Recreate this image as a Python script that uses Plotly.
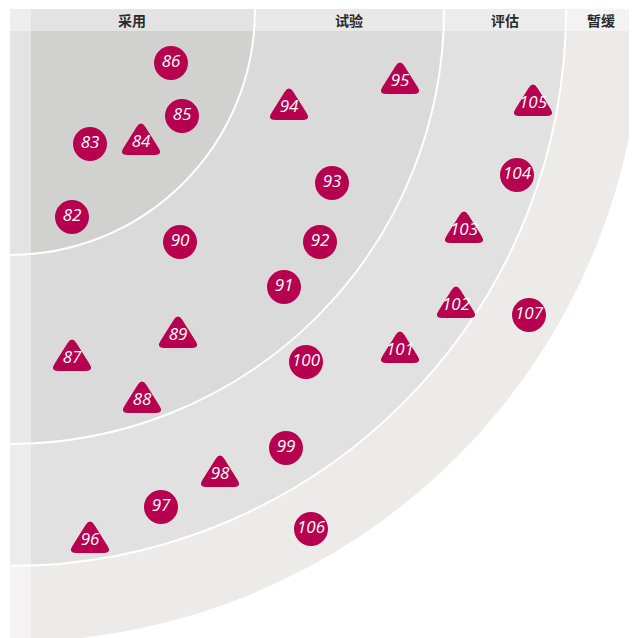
import math
import plotly.graph_objects as go

# ---------------- data ----------------
ring_names = ["采用", "试验", "评估", "暂缓"]
ring_radii = [245, 434, 556, 632]
ring_colors = ["#d1d1d0", "#dadada", "#e1e1e1", "#ecebea"]

blip_ids = [82, 83, 84, 85, 86, 87, 88, 89, 90,
            91, 92, 93, 94, 95, 96, 97, 98, 99, 100, 101,
            102, 103, 104, 105, 106, 107]
blip_x = [72, 90, 141, 182, 171, 72, 142, 178, 180,
          284, 320, 332, 289, 400, 90, 161, 220, 286, 306, 400,
          456, 464, 517, 533, 311, 529]
blip_y = [217, 144, 143, 116, 63, 359, 401, 336, 242,
          287, 242, 183, 108, 82, 541, 507, 475, 448, 362, 351,
          306, 231, 175, 104, 529, 315]
blip_shape = ["circle", "circle", "triangle", "circle", "circle", "triangle", "triangle", "triangle", "circle",
              "circle", "circle", "circle", "triangle", "triangle", "triangle", "circle", "triangle", "circle", "circle", "triangle",
              "triangle", "triangle", "circle", "triangle", "circle", "circle"]

# ---------------- style ----------------
PAGE_W, PAGE_H = 637, 638
PAGE_MARGIN = 8            # default browser body margin
W, H = PAGE_W - PAGE_MARGIN, PAGE_H - PAGE_MARGIN
CX, CY = 10, 10            # radar origin (top-left corner)
BAND_TOP, BAND_BOTTOM = 9, 31
STRIP_LEFT, STRIP_RIGHT = 10, 31
BLIP_COLOR = "#b6004f"
OVERLAY = "rgba(255,252,252,0.42)"
# rounded-triangle glyph template (offsets around a blip's label point)
TRI_APEX, TRI_BASE, TRI_HALF, TRI_CUT = -23, 12, 22, 8

shapes = []
# rings, outermost first
for i in range(len(ring_radii) - 1, -1, -1):
    r = ring_radii[i]
    outer = i == len(ring_radii) - 1
    shapes.append(dict(
        type="circle", xref="x", yref="y",
        x0=CX - r, y0=CY - r, x1=CX + r, y1=CY + r,
        fillcolor=ring_colors[i],
        line=dict(color="white", width=0 if outer else 2),
        layer="below",
    ))
# header band and left strip overlays
shapes.append(dict(type="rect", xref="x", yref="y", x0=STRIP_LEFT, x1=PAGE_W, y0=BAND_TOP, y1=BAND_BOTTOM,
                   fillcolor=OVERLAY, line=dict(width=0), layer="below"))
shapes.append(dict(type="rect", xref="x", yref="y", x0=STRIP_LEFT, x1=STRIP_RIGHT, y0=BAND_TOP, y1=PAGE_H,
                   fillcolor=OVERLAY, line=dict(width=0), layer="below"))
# white masks outside the quadrant
shapes.append(dict(type="rect", xref="x", yref="y", x0=0, x1=PAGE_W, y0=0, y1=BAND_TOP,
                   fillcolor="white", line=dict(width=0), layer="below"))
shapes.append(dict(type="rect", xref="x", yref="y", x0=0, x1=STRIP_LEFT, y0=0, y1=PAGE_H,
                   fillcolor="white", line=dict(width=0), layer="below"))


def rounded_triangle_path(px, py):
    """Rounded triangle glyph around the data point (px, py), in axis units."""
    verts = [(px, py + TRI_APEX), (px + TRI_HALF, py + TRI_BASE), (px - TRI_HALF, py + TRI_BASE)]
    parts = []
    n = len(verts)
    for k in range(n):
        v = verts[k]
        prv = verts[k - 1]
        nxt = verts[(k + 1) % n]

        def toward(a, b):
            dx, dy = b[0] - a[0], b[1] - a[1]
            ln = math.hypot(dx, dy)
            return (a[0] + dx / ln * TRI_CUT, a[1] + dy / ln * TRI_CUT)

        p1 = toward(v, prv)
        p2 = toward(v, nxt)
        parts.append(("M" if k == 0 else "L") + f"{p1[0]:.2f},{p1[1]:.2f}")
        parts.append(f"Q{v[0]:.2f},{v[1]:.2f} {p2[0]:.2f},{p2[1]:.2f}")
    return " ".join(parts) + " Z"


for k, s in enumerate(blip_shape):
    if s == "triangle":
        shapes.append(dict(type="path", xref="x", yref="y",
                           path=rounded_triangle_path(blip_x[k], blip_y[k]),
                           fillcolor=BLIP_COLOR, line=dict(width=0), layer="below"))

# header labels centered within each ring's slice of the band
annotations = []
band_mid = (BAND_TOP + BAND_BOTTOM) / 2
prev = STRIP_LEFT
for i, name in enumerate(ring_names):
    r = ring_radii[i]
    edge = CX + math.sqrt(r * r - (band_mid - CY) ** 2)
    right = min(edge, PAGE_W)
    annotations.append(dict(
        x=(prev + right) / 2, y=band_mid, xref="x", yref="y",
        text=name, showarrow=False,
        font=dict(family="Noto Sans CJK SC", size=14, color="#2a2a2a", weight="bold"),
    ))
    prev = edge

fig = go.Figure()
for shp, sym, size in [("circle", "circle", 34), ("triangle", "triangle-up", 26)]:
    idx = [k for k, s in enumerate(blip_shape) if s == shp]
    fig.add_trace(go.Scatter(
        x=[blip_x[k] for k in idx],
        y=[blip_y[k] for k in idx],
        text=[str(blip_ids[k]) for k in idx],
        mode="markers+text",
        marker=dict(symbol=sym, size=size, color=BLIP_COLOR, line=dict(width=0)),
        textposition="middle center",
        textfont=dict(family="Open Sans", size=17, color="white", style="italic", weight="normal"),
        hoverinfo="skip",
        cliponaxis=False,
    ))

fig.update_layout(
    width=W, height=H,
    margin=dict(l=0, r=0, t=0, b=0),
    paper_bgcolor="white", plot_bgcolor="white",
    showlegend=False,
    shapes=shapes,
    annotations=annotations,
    xaxis=dict(range=[PAGE_MARGIN, PAGE_W], visible=False, fixedrange=True),
    yaxis=dict(range=[PAGE_H, PAGE_MARGIN], visible=False, fixedrange=True),
)

fig.write_html("out.html")
